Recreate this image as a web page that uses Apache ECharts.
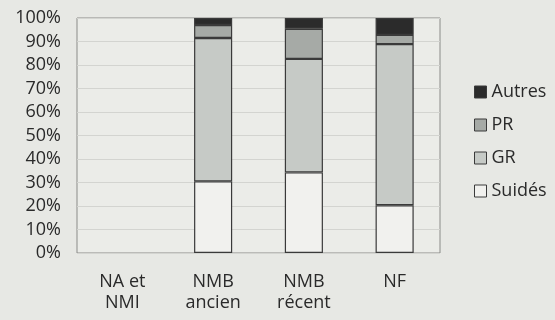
<!DOCTYPE html>
<html><head><meta charset="utf-8">
<script src="https://cdn.jsdelivr.net/npm/echarts@6/dist/echarts.min.js"></script>
<style>html,body{margin:0;padding:0;background:#e7e8e4;}#c{width:555px;height:320px;}</style>
</head><body><div id="c"></div>
<script>
const categories = ['NA et\nNMI', 'NMB\nancien', 'NMB\nrécent', 'NF'];
const suides = [null, 30.5, 34.3, 20.3];
const gr = [null, 61, 48.3, 68.6];
const pr = [null, 5.5, 12.8, 3.9];
const autres = [null, 3, 4.6, 7.2];
const yTicks = [0,10,20,30,40,50,60,70,80,90,100];

const chart = echarts.init(document.getElementById('c'), null, {renderer:'canvas'});
const font = 'Open Sans, DejaVu Sans, sans-serif';
const border = {borderColor:'#3a3a3a', borderWidth:1.2};
function s(name, data, color){
  return {name, type:'bar', stack:'t', data, barWidth:'42%', itemStyle:Object.assign({color}, border)};
}
chart.setOption({
  backgroundColor:'#e7e8e4',
  animation:false,
  grid:{left:77, right:115, top:18, bottom:67, show:true, backgroundColor:'#ebece8', borderColor:'#8a8b88', borderWidth:1},
  legend:{orient:'vertical', left:469, top:78, itemWidth:12, itemHeight:12, itemGap:15, icon:'rect',
    data:['Autres','PR','GR','Suidés'],
    textStyle:{fontFamily:font, fontSize:18, color:'#2a2a2a', padding:[0,0,0,0]},
    itemStyle:{borderColor:'#3a3a3a', borderWidth:1}},
  xAxis:{type:'category', data:categories, axisTick:{show:false}, axisLine:{show:false},
    axisLabel:{fontFamily:font, fontSize:18, color:'#2a2a2a', lineHeight:21, margin:18}},
  yAxis:{type:'value', min:0, max:100, interval:10, axisLine:{show:false}, axisTick:{show:false},
    splitLine:{lineStyle:{color:'#d3d4d0', width:1}},
    axisLabel:{fontFamily:font, fontSize:18, color:'#2a2a2a', margin:16, formatter:v=>yTicks.includes(v)? v+'%':''}},
  series:[
    s('Suidés', suides, '#f1f1ee'),
    s('GR', gr, '#c6cac6'),
    s('PR', pr, '#a6aaa6'),
    s('Autres', autres, '#2b2b2b')
  ]
});
</script></body></html>
